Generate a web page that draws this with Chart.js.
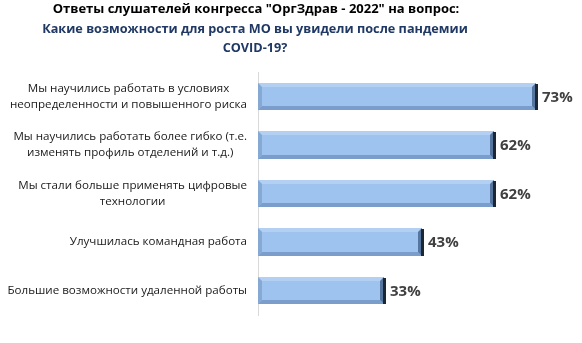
<!DOCTYPE html>
<html>
<head>
<meta charset="utf-8">
<script src="https://cdn.jsdelivr.net/npm/chart.js@4.4.1/dist/chart.umd.min.js"></script>
<style>
  html, body { margin: 0; padding: 0; background: #fff; }
  #wrap { width: 582px; height: 343px; position: relative; }
</style>
</head>
<body>
<div id="wrap"><canvas id="myChart"></canvas></div>
<script>
// заголовок
const titleLine1 = 'Ответы слушателей конгресса "ОргЗдрав - 2022" на вопрос:';
const titleLines2 = ['Какие возможности для роста МО вы увидели после пандемии', 'COVID-19?'];

// категории (каждая строка - отдельная строка подписи)
const categories = [
	['Мы научились работать в условиях', 'неопределенности и повышенного риска'],
	['Мы научились работать более гибко (т.е.', 'изменять профиль отделений и т.д.)'],
	['Мы стали больше применять цифровые', 'технологии'],
	['Улучшилась командная работа'],
	['Большие возможности удаленной работы']
];

// проценты
const values = [73, 62, 62, 43, 33];

const FONT = "'Open Sans', 'DejaVu Sans', sans-serif";

// рисуем заголовок, подписи категорий, объемные полосы и проценты
const customDraw = {
	id: 'customDraw',
	afterDatasetsDraw(chart) {
		const ctx = chart.ctx;
		const meta = chart.getDatasetMeta(0);
		const yScale = chart.scales.y;

		meta.data.forEach(function(bar, i) {
			const left = Math.round(bar.base);
			const right = Math.round(bar.x);
			const top = Math.round(bar.y - bar.height / 2);
			const bottom = Math.round(bar.y + bar.height / 2);
			const e = 4;

			ctx.save();
			// основная заливка
			ctx.fillStyle = '#9dc3ee';
			ctx.fillRect(left, top, right - left, bottom - top);
			// верхняя грань
			ctx.fillStyle = '#b3cff1';
			ctx.beginPath();
			ctx.moveTo(left, top); ctx.lineTo(right, top);
			ctx.lineTo(right - e, top + e); ctx.lineTo(left + e, top + e);
			ctx.closePath(); ctx.fill();
			// левая грань
			ctx.fillStyle = '#86a9d4';
			ctx.beginPath();
			ctx.moveTo(left, top); ctx.lineTo(left + e, top + e);
			ctx.lineTo(left + e, bottom - e); ctx.lineTo(left, bottom);
			ctx.closePath(); ctx.fill();
			// нижняя грань
			ctx.fillStyle = '#7a9dcb';
			ctx.beginPath();
			ctx.moveTo(left, bottom); ctx.lineTo(left + e, bottom - e);
			ctx.lineTo(right - e, bottom - e); ctx.lineTo(right, bottom);
			ctx.closePath(); ctx.fill();
			// правая грань (тень)
			ctx.fillStyle = '#56769f';
			ctx.beginPath();
			ctx.moveTo(right, top); ctx.lineTo(right - e, top + e);
			ctx.lineTo(right - e, bottom - e); ctx.lineTo(right, bottom);
			ctx.closePath(); ctx.fill();
			ctx.fillStyle = '#1c2736';
			ctx.fillRect(right - 1, top + 1, 3, bottom - top - 1);

			// процент
			ctx.fillStyle = '#404040';
			ctx.font = "bold 15px " + FONT;
			ctx.textAlign = 'left';
			ctx.textBaseline = 'middle';
			ctx.fillText(values[i] + '%', right + 6, bar.y + 1);
			ctx.restore();
		});

		// подписи категорий: строки центрированы, блок прижат вправо
		ctx.save();
		ctx.font = "11.6px " + FONT;
		ctx.fillStyle = '#1a1a1a';
		ctx.textBaseline = 'middle';
		ctx.textAlign = 'center';
		const rightEdge = 247;
		const lh = 16;
		categories.forEach(function(lines, i) {
			const cy = yScale.getPixelForTick(i);
			let w = 0;
			lines.forEach(function(l) { w = Math.max(w, ctx.measureText(l).width); });
			const cx = rightEdge - w / 2;
			lines.forEach(function(l, j) {
				ctx.fillText(l, cx, cy + (j - (lines.length - 1) / 2) * lh);
			});
		});
		ctx.restore();

		// заголовок
		ctx.save();
		ctx.textAlign = 'center';
		ctx.textBaseline = 'middle';
		ctx.font = "bold 13px " + FONT;
		ctx.fillStyle = '#000';
		ctx.fillText(titleLine1, 256, 9);
		ctx.font = "bold 12.7px " + FONT;
		ctx.fillStyle = '#1f3864';
		titleLines2.forEach(function(l, j) {
			ctx.fillText(l, 255, 29 + j * 19);
		});
		ctx.restore();
	}
};

const ctx1 = document.querySelector('#myChart').getContext('2d');

new Chart(ctx1, {
	type: 'bar',
	data: {
		labels: categories,
		datasets: [{
			data: values,
			backgroundColor: 'rgba(0,0,0,0)',
			borderWidth: 0,
			categoryPercentage: 1,
			barPercentage: 0.56
		}]
	},
	options: {
		indexAxis: 'y',
		responsive: true,
		maintainAspectRatio: false,
		animation: false,
		layout: {
			padding: { top: 72, right: 19, bottom: 28, left: 0 }
		},
		plugins: {
			legend: { display: false },
			tooltip: { enabled: false },
			title: { display: false }
		},
		scales: {
			x: {
				min: 0,
				max: 80,
				display: false
			},
			y: {
				grid: { display: false },
				border: { display: true, color: '#d9d9d9', width: 1 },
				ticks: { display: false },
				afterFit: function(scale) { scale.width = 258; }
			}
		}
	},
	plugins: [customDraw]
});
</script>
</body>
</html>
